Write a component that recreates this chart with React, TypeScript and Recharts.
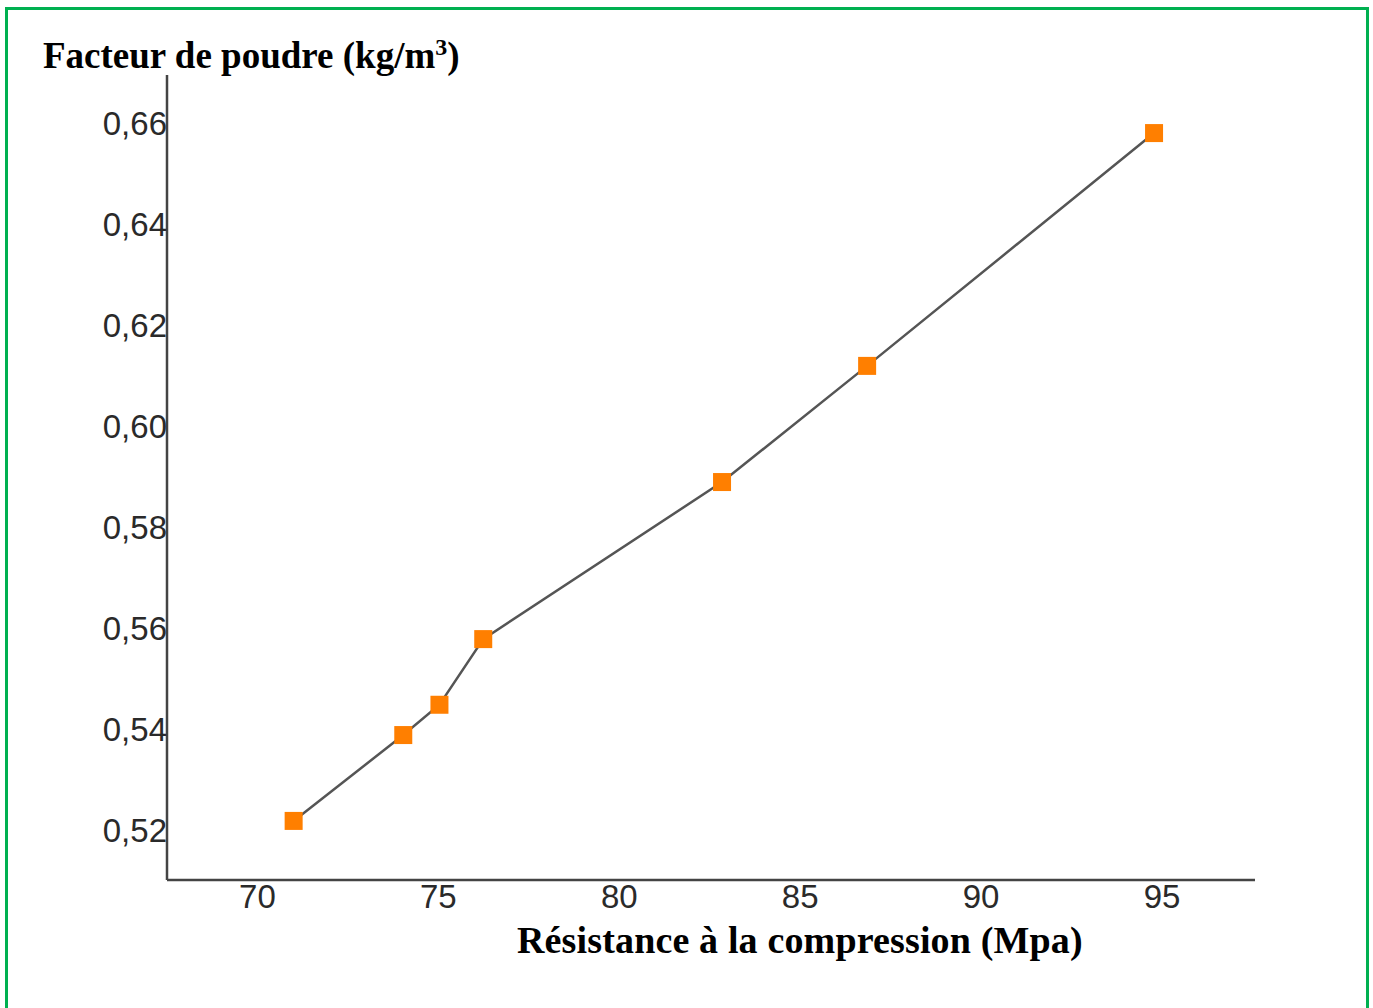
import React from 'react';
import { LineChart, Line, XAxis, YAxis } from 'recharts';

const resistance = [71.0, 74.03, 75.03, 76.24, 82.84, 86.85, 94.78];
const facteur = [0.5218, 0.5388, 0.5448, 0.5578, 0.5889, 0.6119, 0.658];
const xTicks = [70, 75, 80, 85, 90, 95];
const yTicks = [0.52, 0.54, 0.56, 0.58, 0.6, 0.62, 0.64, 0.66];

const data = resistance.map((r, i) => ({ r, f: facteur[i] }));

const SquareDot = (props: any) => {
  const { cx, cy } = props;
  if (cx == null || cy == null) return null;
  return <rect x={cx - 9} y={cy - 9} width={18} height={18} fill="#FF7F00" />;
};

const tickStyle = { fontFamily: '"Liberation Sans", Arial, sans-serif', fontSize: 33, fill: '#2a2a2a' };
const titleStyle: React.CSSProperties = {
  position: 'absolute',
  fontFamily: '"Liberation Serif", "Times New Roman", serif',
  fontWeight: 'bold',
  color: '#000',
  whiteSpace: 'nowrap',
  lineHeight: 1,
};

const App: React.FC = () => {
  return (
    <div style={{ position: 'absolute', left: 0, top: 0, width: 1373, height: 1008, background: '#fff', overflow: 'hidden' }}>
      <div
        style={{
          position: 'absolute',
          left: 5,
          top: 7,
          width: 1358,
          height: 1100,
          borderTop: '3px solid #00B050',
          borderLeft: '3px solid #00B050',
          borderRight: '3px solid #00B050',
        }}
      />
      <div style={{ position: 'absolute', left: 0, top: 0 }}>
        <LineChart width={1373} height={1008} data={data} margin={{ top: 75, right: 118, bottom: 88, left: 107 }}>
          <XAxis
            dataKey="r"
            type="number"
            domain={[67.5, 97.57]}
            ticks={xTicks}
            allowDataOverflow
            height={40}
            stroke="#444"
            strokeWidth={2.5}
            tickLine={false}
            tickSize={0}
            tickMargin={5}
            tick={tickStyle}
          />
          <YAxis
            dataKey="f"
            type="number"
            domain={[0.5101, 0.6695]}
            ticks={yTicks}
            allowDataOverflow
            width={60}
            stroke="#444"
            strokeWidth={2.5}
            tickLine={false}
            tickSize={0}
            tickMargin={0}
            tick={tickStyle}
            tickFormatter={(v: number) => v.toFixed(2).replace('.', ',')}
          />
          <Line
            type="linear"
            dataKey="f"
            stroke="#555"
            strokeWidth={2.5}
            dot={<SquareDot />}
            activeDot={false}
            isAnimationActive={false}
          />
        </LineChart>
      </div>
      <div style={{ ...titleStyle, left: 43, top: 35, fontSize: 37 }}>
        Facteur de poudre (kg/m<sup style={{ fontSize: 24 }}>3</sup>)
      </div>
      <div style={{ ...titleStyle, left: 517, top: 921, fontSize: 38, letterSpacing: 0.15 }}>
        Résistance à la compression (Mpa)
      </div>
    </div>
  );
};

export default App;
